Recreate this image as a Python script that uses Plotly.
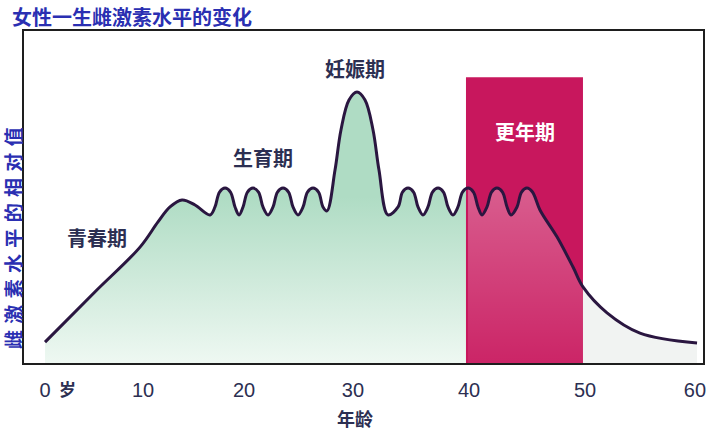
import plotly.graph_objects as go

# ---- data ----
# horizontal position on the drawn age axis (0 = "0 岁", 60 = "60")
AGE = [0, 4.6, 8.77, 10.43, 11.54, 12.65, 13.85, 15.23,
       15.69, 16.11, 16.62, 17.12, 17.54, 17.91,
       18.28, 18.69, 19.20, 19.71, 20.12, 20.59,
       21.05, 21.46, 21.97, 22.48, 22.89, 23.35,
       23.82, 24.23, 24.74, 25.25, 25.66, 26.03,
       26.77, 27.32, 28.06, 28.80, 29.54, 30.28, 30.83, 31.66,
       32.59, 33.00, 33.51, 34.02, 34.43, 34.89,
       35.35, 35.77, 36.28, 36.78, 37.20, 37.66,
       38.12, 38.54, 39.05, 39.55, 39.97, 40.34,
       40.80, 41.22, 41.72, 42.23, 42.65, 43.02,
       43.57, 43.99, 44.49, 45.00,
       45.69, 47.26, 48.74, 49.66, 51.88, 54.92, 60.19]
# relative estrogen level (0 = bottom of the frame, 100 = top)
LEVEL = [6.3, 21.4, 34.9, 42.5, 47.0, 49.1, 47.6, 44.6,
         47.0, 51.5, 52.7, 51.5, 47.0, 44.6,
         47.0, 51.5, 52.7, 51.5, 47.0, 44.6,
         47.0, 51.5, 52.7, 51.5, 47.0, 44.6,
         47.0, 51.5, 52.7, 51.5, 47.0, 45.8,
         58.1, 70.2, 79.2, 81.6, 79.2, 70.2, 58.1, 44.6,
         47.0, 51.5, 52.7, 51.5, 47.0, 44.6,
         47.0, 51.5, 52.7, 51.5, 47.0, 44.6,
         47.0, 51.5, 52.7, 51.5, 47.0, 44.6,
         47.0, 51.5, 52.7, 51.5, 47.0, 44.6,
         47.0, 51.5, 52.7, 51.5,
         46.1, 38.0, 28.9, 22.9, 15.1, 9.0, 6.0]

TICK_POS = [0, 9.05, 18.37, 28.43, 39.14, 49.85, 60.0]
TICK_TEXT = ["0", "10", "20", "30", "40", "50", "60"]

MENO_START, MENO_END, MENO_TOP = 38.86, 49.66, 86.1

PHASE_NAMES = ["青春期", "生育期", "妊娠期"]
PHASE_X = [4.8, 20.1, 28.6]
PHASE_Y = [37.7, 62.0, 88.6]
MENO_LABEL = "更年期"
MENO_LABEL_POS = (44.3, 69.6)

TITLE = "女性一生雌激素水平的变化"
Y_LABEL = "雌激素水平的相对值"
X_LABEL = "年龄"
AGE_UNIT = "岁"

# ---- styling ----
CJK = "Noto Sans CJK SC"
BLUE = "#2a2fb2"
NAVY = "#2c2f52"
MAGENTA = "#c8175d"
LINE = "#2a1640"

i_left = AGE.index(39.05)
i_right = AGE.index(49.66)

fig = go.Figure()

# green gradient area up to the end of menopause band
fig.add_trace(go.Scatter(
    x=AGE[:i_right + 1], y=LEVEL[:i_right + 1], mode="lines",
    line=dict(width=0, shape="spline", smoothing=1.0),
    fill="tozeroy",
    fillgradient=dict(type="vertical", start=0, stop=50,
                      colorscale=[[0, "#eef8f2"], [0.5, "#cfeadb"], [1, "#afdcc4"]]),
    hoverinfo="skip", showlegend=False))

# pale tail after menopause
fig.add_trace(go.Scatter(
    x=AGE[i_right:], y=LEVEL[i_right:], mode="lines",
    line=dict(width=0, shape="spline", smoothing=1.0),
    fill="tozeroy", fillcolor="#f1f3f2",
    hoverinfo="skip", showlegend=False))

# menopause band
fig.add_trace(go.Scatter(
    x=[MENO_START, MENO_END, MENO_END, MENO_START, MENO_START],
    y=[0, 0, MENO_TOP, MENO_TOP, 0], mode="lines",
    line=dict(width=0), fill="toself", fillcolor=MAGENTA,
    hoverinfo="skip", showlegend=False))

# lighter area under the curve inside the band
fig.add_trace(go.Scatter(
    x=AGE[i_left:i_right + 1], y=LEVEL[i_left:i_right + 1], mode="lines",
    line=dict(width=0, shape="spline", smoothing=1.0),
    fill="tozeroy",
    fillgradient=dict(type="vertical", start=0, stop=52,
                      colorscale=[[0, "rgba(255,255,255,0.06)"], [1, "rgba(255,255,255,0.30)"]]),
    hoverinfo="skip", showlegend=False))

# the curve
fig.add_trace(go.Scatter(
    x=AGE, y=LEVEL, mode="lines",
    line=dict(color=LINE, width=3, shape="spline", smoothing=1.0),
    hoverinfo="skip", showlegend=False))

annotations = []
for name, px, py in zip(PHASE_NAMES, PHASE_X, PHASE_Y):
    annotations.append(dict(x=px, y=py, xref="x", yref="y", text=name, showarrow=False,
                            font=dict(family=CJK, size=20, color=NAVY, weight="bold")))
annotations.append(dict(x=MENO_LABEL_POS[0], y=MENO_LABEL_POS[1], xref="x", yref="y",
                        text=MENO_LABEL, showarrow=False,
                        font=dict(family=CJK, size=20, color="white", weight="bold")))
annotations.append(dict(x=-0.0206, y=1.045, xref="paper", yref="paper", text=TITLE,
                        xanchor="left", yanchor="middle", showarrow=False,
                        font=dict(family=CJK, size=20, color=BLUE, weight="bold")))
annotations.append(dict(x=-0.0177, y=0.3765, xref="paper", yref="paper",
                        text="\u2004".join(Y_LABEL), textangle=-90,
                        xanchor="center", yanchor="middle", showarrow=False,
                        font=dict(family=CJK, size=19, color=BLUE, weight="bold")))
annotations.append(dict(x=28.6, y=-0.1657, xref="x", yref="paper", text=X_LABEL,
                        showarrow=False, yanchor="middle",
                        font=dict(family=CJK, size=18, color=NAVY, weight="bold")))
annotations.append(dict(x=2.12, y=-0.078, xref="x", yref="paper", text=AGE_UNIT,
                        showarrow=False, yanchor="middle",
                        font=dict(family=CJK, size=17, color=NAVY, weight="bold")))

fig.update_layout(
    width=710, height=434,
    margin=dict(l=24, r=7, t=31, b=71, autoexpand=False),
    paper_bgcolor="white", plot_bgcolor="white",
    annotations=annotations,
    xaxis=dict(range=[-1.94, 60.74], showgrid=False, zeroline=False, automargin=False,
               tickmode="array", tickvals=TICK_POS, ticktext=TICK_TEXT,
               ticks="outside", ticklen=8, tickcolor="rgba(0,0,0,0)",
               tickfont=dict(family="Liberation Sans Narrow, Liberation Sans, Arial", size=20, color=NAVY),
               showline=True, mirror=True, linecolor="#1e1e1e", linewidth=2),
    yaxis=dict(range=[0, 100], showgrid=False, zeroline=False, showticklabels=False,
               automargin=False,
               showline=True, mirror=True, linecolor="#1e1e1e", linewidth=2),
)

fig.write_html("out.html", config={"displayModeBar": False},
               post_script="document.body.style.margin='0px';document.body.style.overflow='hidden';")
